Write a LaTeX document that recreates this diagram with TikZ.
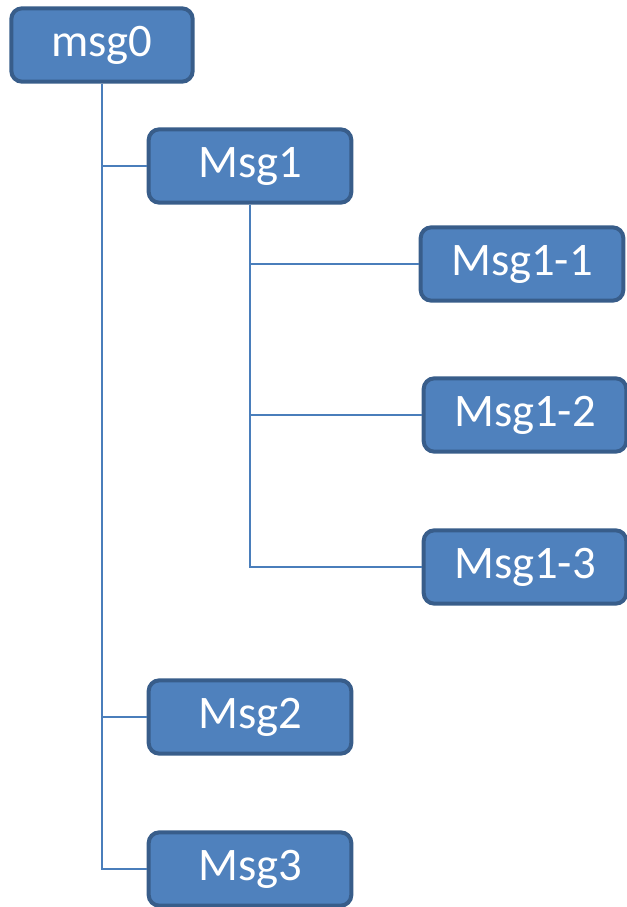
\documentclass[tikz,border=0pt]{standalone}
\usepackage{fontspec}
\setmainfont{Carlito}
\usepackage{tikz}
\usetikzlibrary{positioning}
\definecolor{boxfill}{HTML}{4F81BD}
\definecolor{boxline}{HTML}{385D8A}
\definecolor{wire}{HTML}{4A7EBB}
\tikzset{
    msgbox/.style={rectangle, draw=boxline, fill=boxfill, line width=3pt, rounded corners=8pt, text=white, text centered, minimum height=55pt, font=\fontsize{35}{40}\selectfont},
    rootbox/.style={msgbox, minimum width=136pt},
    childbox/.style={msgbox, minimum width=152pt},
    link/.style={draw=wire, line width=1.3pt}
}

\begin{document}
\begin{tikzpicture}[x=0.75pt, y=-0.75pt]
    \useasboundingbox (0,0) rectangle (627,907);
    % Nodes
    \node (msg0) [rootbox] at (102,45) {msg0};
    \node (msg1) [childbox] at (250,166) {Msg1};
    \node (msg11) [childbox] at (522,264) {Msg1-1};
    \node (msg12) [childbox] at (525,415) {Msg1-2};
    \node (msg13) [childbox] at (525,567) {Msg1-3};
    \node (msg2) [childbox] at (250,717) {Msg2};
    \node (msg3) [childbox] at (250,869) {Msg3};
    % Links
    \draw [link] (msg0.south) |- (msg1.west);
    \draw [link] (msg0.south) |- (msg2.west);
    \draw [link] (msg0.south) |- (msg3.west);
    \draw [link] (msg1.south) |- (msg11.west);
    \draw [link] (msg1.south) |- (msg12.west);
    \draw [link] (msg1.south) |- (msg13.west);
\end{tikzpicture}
\end{document}
